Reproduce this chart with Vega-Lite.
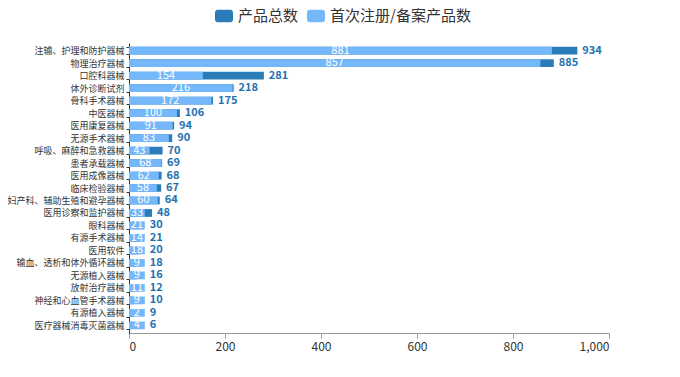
{
  "$schema": "https://vega.github.io/schema/vega-lite/v6.json",
  "autosize": {"type": "none"},
  "width": 480,
  "height": 290,
  "padding": {"left": 129, "top": 43, "right": 71, "bottom": 44},
  "background": "white",
  "config": {
    "view": {"stroke": null},
    "font": "Noto Sans CJK SC",
    "axis": {"labelFont": "Noto Sans CJK SC", "grid": false}
  },
  "data": {
    "values": [
      {"category": "注输、护理和防护器械", "total": 934, "first": 881},
      {"category": "物理治疗器械", "total": 885, "first": 857},
      {"category": "口腔科器械", "total": 281, "first": 154},
      {"category": "体外诊断试剂", "total": 218, "first": 216},
      {"category": "骨科手术器械", "total": 175, "first": 172},
      {"category": "中医器械", "total": 106, "first": 100},
      {"category": "医用康复器械", "total": 94, "first": 91},
      {"category": "无源手术器械", "total": 90, "first": 83},
      {"category": "呼吸、麻醉和急救器械", "total": 70, "first": 43},
      {"category": "患者承载器械", "total": 69, "first": 68},
      {"category": "医用成像器械", "total": 68, "first": 62},
      {"category": "临床检验器械", "total": 67, "first": 58},
      {"category": "妇产科、辅助生殖和避孕器械", "total": 64, "first": 60},
      {"category": "医用诊察和监护器械", "total": 48, "first": 33},
      {"category": "眼科器械", "total": 30, "first": 21},
      {"category": "有源手术器械", "total": 21, "first": 14},
      {"category": "医用软件", "total": 20, "first": 18},
      {"category": "输血、透析和体外循环器械", "total": 18, "first": 9},
      {"category": "无源植入器械", "total": 16, "first": 9},
      {"category": "放射治疗器械", "total": 12, "first": 11},
      {"category": "神经和心血管手术器械", "total": 10, "first": 9},
      {"category": "有源植入器械", "total": 9, "first": 2},
      {"category": "医疗器械消毒灭菌器械", "total": 6, "first": 4}
    ]
  },
  "encoding": {
    "y": {
      "field": "category",
      "type": "nominal",
      "sort": null,
      "scale": {"paddingInner": 0.38, "paddingOuter": 0.3},
      "axis": {
        "title": null,
        "labelFontSize": 9,
        "labelColor": "#333333",
        "labelPadding": 2,
        "tickSize": 3,
        "tickColor": "#333333",
        "tickBand": "extent",
        "domainColor": "#333333"
      }
    }
  },
  "resolve": {"scale": {"x": "independent"}},
  "layer": [
    {
      "mark": {"type": "bar"},
      "encoding": {
        "x": {
          "field": "total",
          "type": "quantitative",
          "scale": {"domain": [0, 1000], "nice": false},
          "axis": {
            "title": null,
            "values": [0, 200, 400, 600, 800, 1000],
            "format": ",.0f",
            "labelFontSize": 12,
            "labelColor": "#333333",
            "labelPadding": 3,
            "tickSize": 5,
            "tickColor": "#999999",
            "domainColor": "#999999"
          }
        },
        "color": {
          "datum": "产品总数",
          "type": "nominal",
          "scale": {
            "domain": ["产品总数", "首次注册/备案产品数"],
            "range": ["#2a7cb8", "#74b7fb"]
          },
          "legend": {
            "title": null,
            "orient": "none",
            "direction": "horizontal",
            "legendX": 86,
            "legendY": -36,
            "padding": 0,
            "symbolType": "M-0.7,-0.7H0.7A0.3,0.3 0 0 1 1,-0.4V0.4A0.3,0.3 0 0 1 0.7,0.7H-0.7A0.3,0.3 0 0 1 -1,0.4V-0.4A0.3,0.3 0 0 1 -0.7,-0.7Z",
            "symbolSize": 324,
            "symbolStrokeWidth": 0,
            "labelFontSize": 15,
            "labelColor": "#333333",
            "labelFont": "Noto Sans CJK SC",
            "labelOffset": 5,
            "columnPadding": 8,
            "labelLimit": 300
          }
        }
      }
    },
    {
      "mark": {"type": "bar"},
      "encoding": {
        "x": {"field": "first", "type": "quantitative", "scale": {"domain": [0, 0.001, 33, 1000], "range": [0, 15.8, 15.8, 480], "nice": false, "zero": false}, "axis": null},
        "color": {"datum": "首次注册/备案产品数", "type": "nominal"}
      }
    },
    {
      "mark": {"type": "text", "align": "left", "baseline": "middle", "dx": 5, "fontSize": 11, "fontWeight": "bold", "color": "#2471b0", "font": "Noto Sans CJK SC"},
      "encoding": {
        "x": {"field": "total", "type": "quantitative", "scale": {"domain": [33, 1000], "range": [15.8, 480], "clamp": true, "nice": false, "zero": false}, "axis": null},
        "text": {"field": "total", "type": "quantitative"}
      }
    },
    {
      "mark": {"type": "text", "align": "center", "baseline": "middle", "fontSize": 11, "color": "white", "font": "Noto Sans CJK SC"},
      "encoding": {
        "x": {"field": "first", "type": "quantitative", "scale": {"domain": [33, 1000], "range": [7.9, 240], "clamp": true, "nice": false, "zero": false}, "axis": null},
        "text": {"field": "first", "type": "quantitative"}
      }
    }
  ]
}
